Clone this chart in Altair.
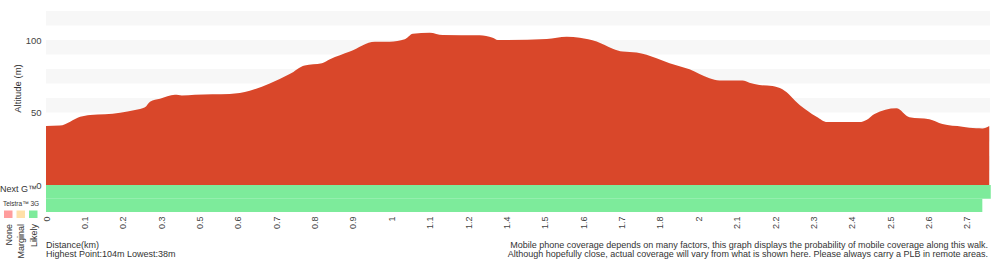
import altair as alt
import pandas as pd

# ---------------- data ----------------
tick_labels = ["0", "0.1", "0.2", "0.3", "0.5", "0.6", "0.7", "0.8", "0.9", "1",
               "1.1", "1.2", "1.4", "1.5", "1.6", "1.7", "1.8", "2", "2.1", "2.2",
               "2.3", "2.4", "2.5", "2.6", "2.7"]

# sample index along the walk (tick k = k-th labelled sample) and altitude (m)
profile_idx = [0, 0.36, 0.63, 0.89, 1.15, 1.54, 1.93, 2.32, 2.58, 2.71, 2.97, 3.36,
               3.54, 3.88, 4.79, 5.31, 5.83, 6.35, 6.74, 7.19, 7.40, 7.92, 8.57,
               8.96, 9.35, 9.56, 10.0, 10.34, 11.30, 11.64, 11.77, 13.05, 13.57,
               13.91, 14.35, 14.77, 15.03, 15.39, 15.91, 16.25, 16.77, 17.29, 17.55,
               18.15, 18.33, 18.59, 18.93, 19.19, 19.64, 20.08, 20.36, 21.20, 21.38,
               21.59, 22.16, 22.50, 23.02, 23.36, 23.88, 24.24, 24.40, 24.58]
profile_alt = [40.7, 41, 43.7, 47, 48.3, 48.8, 49.9, 51.7, 53.6, 57.5, 59.5, 62.3,
               61.8, 62.3, 62.8, 65, 70, 76.5, 82.5, 84, 86.7, 92, 98.8,
               98.8, 100.5, 104.3, 105, 103.4, 103.2, 101.5, 100, 100.7, 102.3,
               101.6, 99, 94, 92, 91.3, 87.4, 84, 79.8, 73.6, 72,
               72, 70.6, 69, 68.3, 66, 55.2, 47.1, 43.4, 43.4, 44.8,
               49, 52.9, 46.7, 45.3, 42, 40.2, 39.1, 39, 40.7]

# coverage strips below the profile
cov_start = [0, 0]
cov_end = [24.62, 24.40]
cov_top = [0, -9.5]
cov_bottom = [-9.5, -18.6]
cov_level = ["Likely", "Likely"]

legend_levels = ["None", "Marginal", "Likely"]
legend_colors = ["#ff9d9d", "#ffe0a8", "#7deb9b"]

band_lo = [10, 30, 50, 70, 90, 110]
band_hi = [20, 40, 60, 80, 100, 120]

highest, lowest = 104, 38

# ---------------- styling ----------------
RED = "#d9472a"
FONT = "Liberation Sans"
TXT = "#333333"
X_MAX = 24.6

prof = pd.DataFrame({"idx": profile_idx, "alt": profile_alt, "base": 0})
bands = pd.DataFrame({"lo": band_lo, "hi": band_hi, "x0": 0, "x1": X_MAX})
cov = pd.DataFrame({"s": cov_start, "e": cov_end, "t": cov_top, "b": cov_bottom,
                    "level": cov_level})

label_expr = "[" + ",".join("'%s'" % l for l in tick_labels) + "][datum.value]"

xscale = alt.Scale(domain=[0, X_MAX], nice=False, zero=False)
yscale = alt.Scale(domain=[-18.6, 120], nice=False, zero=False)
xaxis = alt.Axis(values=list(range(len(tick_labels))), labelExpr=label_expr,
                 labelAngle=270, labelFontSize=9, labelColor="#444444",
                 labelPadding=4, ticks=False, domain=False, grid=False,
                 labelFlush=False, labelOverlap=False, title=None)
yaxis = alt.Axis(values=[0, 50, 100], labelFontSize=9.5, labelColor="#444444",
                 labelPadding=5, ticks=False, domain=False, grid=False,
                 title="Altitude (m)", titleFontSize=9.5, titleFontWeight="normal",
                 titleColor=TXT, titleX=-24, titleY=77, titleFont=FONT)

band_layer = alt.Chart(bands).mark_rect(color="#f7f7f7").encode(
    x=alt.X("x0:Q", scale=xscale, axis=xaxis), x2="x1:Q",
    y=alt.Y("lo:Q", scale=yscale, axis=yaxis), y2="hi:Q")

area_layer = alt.Chart(prof).mark_area(color=RED, interpolate="monotone").encode(
    x=alt.X("idx:Q", scale=xscale, axis=xaxis),
    y=alt.Y("alt:Q", scale=yscale, axis=yaxis), y2="base:Q")

cov_layer = alt.Chart(cov).mark_rect().encode(
    x=alt.X("s:Q", scale=xscale, axis=xaxis), x2="e:Q",
    y=alt.Y("t:Q", scale=yscale, axis=yaxis), y2="b:Q",
    color=alt.Color("level:N", scale=alt.Scale(domain=legend_levels,
                                                 range=legend_colors), legend=None))


def text(s, x, y, size=9, align="left", angle=0, baseline="alphabetic"):
    return alt.Chart(pd.DataFrame({"t": [s]})).mark_text(
        align=align, baseline=baseline, fontSize=size, font=FONT, color=TXT,
        angle=angle).encode(x=alt.value(x), y=alt.value(y), text="t:N")


layers = [band_layer, area_layer, cov_layer]
layers.append(text("Next G™", -46, 177.5, size=9, baseline="middle"))
layers.append(text("Telstra™ 3G", -43, 192.5, size=6.5, baseline="middle"))
for i, (lvl, col) in enumerate(zip(legend_levels, legend_colors)):
    x0 = -42 + i * 12.5
    layers.append(alt.Chart(pd.DataFrame({"l": [lvl]})).mark_rect(color=col).encode(
        x=alt.value(x0), x2=alt.value(x0 + 8.5), y=alt.value(199.5), y2=alt.value(207)))
    layers.append(text(lvl, x0 + 4.5, 213, size=9, align="right", angle=270,
                       baseline="middle"))

layers.append(text("Distance(km)", 0, 236.5))
layers.append(text("Highest Point:%dm Lowest:%dm" % (highest, lowest), 0, 245.5))
layers.append(text("Mobile phone coverage depends on many factors, this graph displays "
                   "the probability of mobile coverage along this walk.", 942, 236.5,
                   align="right"))
layers.append(text("Although hopefully close, actual coverage will vary from what is "
                   "shown here. Please always carry a PLB in remote areas.", 942, 245.5,
                   align="right"))

chart = alt.layer(*layers).properties(
    width=944, height=201,
    autosize=alt.AutoSizeParams(type="none"),
    padding={"left": 46, "top": 11, "right": 10, "bottom": 48},
).configure_view(stroke=None).configure_axis(labelFont=FONT)

chart.save("out.html", embed_options={"renderer": "svg", "actions": False})
